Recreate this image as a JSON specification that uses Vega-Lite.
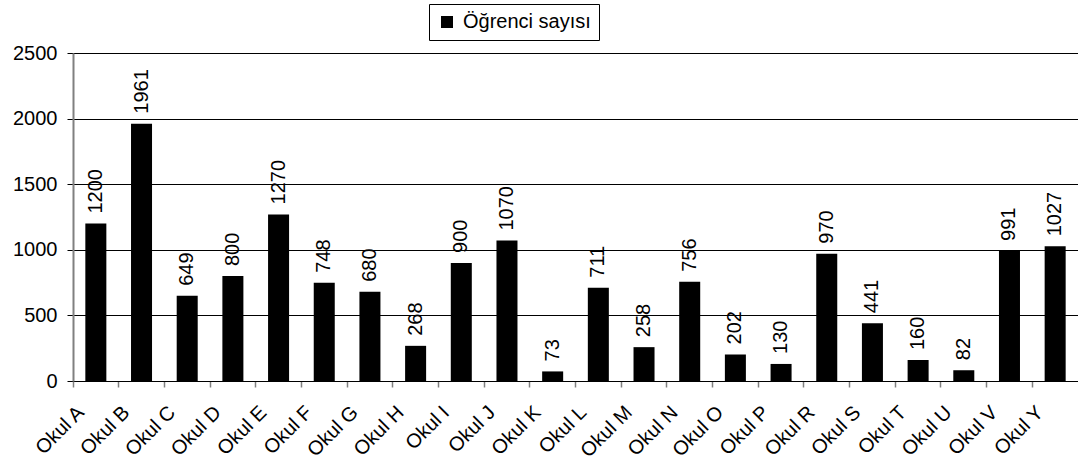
{
  "$schema": "https://vega.github.io/schema/vega-lite/v6.json",
  "autosize": "none",
  "width": 1005,
  "height": 328,
  "padding": {"left": 73, "top": 53, "right": 0, "bottom": 81},
  "background": "white",
  "config": {
    "font": "Liberation Sans",
    "view": {"stroke": null}
  },
  "data": {
    "values": [
      {"okul": "Okul A", "sayi": 1200},
      {"okul": "Okul B", "sayi": 1961},
      {"okul": "Okul C", "sayi": 649},
      {"okul": "Okul D", "sayi": 800},
      {"okul": "Okul E", "sayi": 1270},
      {"okul": "Okul F", "sayi": 748},
      {"okul": "Okul G", "sayi": 680},
      {"okul": "Okul H", "sayi": 268},
      {"okul": "Okul I", "sayi": 900},
      {"okul": "Okul J", "sayi": 1070},
      {"okul": "Okul K", "sayi": 73},
      {"okul": "Okul L", "sayi": 711},
      {"okul": "Okul M", "sayi": 258},
      {"okul": "Okul N", "sayi": 756},
      {"okul": "Okul O", "sayi": 202},
      {"okul": "Okul P", "sayi": 130},
      {"okul": "Okul R", "sayi": 970},
      {"okul": "Okul S", "sayi": 441},
      {"okul": "Okul T", "sayi": 160},
      {"okul": "Okul U", "sayi": 82},
      {"okul": "Okul V", "sayi": 991},
      {"okul": "Okul Y", "sayi": 1027}
    ]
  },
  "encoding": {
    "x": {
      "field": "okul",
      "type": "nominal",
      "sort": null,
      "scale": {"paddingInner": 0, "paddingOuter": 0},
      "axis": {
        "title": null,
        "bandPosition": 0,
        "labelAngle": -45,
        "labelAlign": "right",
        "labelBaseline": "middle",
        "labelFontSize": 20,
        "labelColor": "black",
        "labelPadding": 22,
        "labelOffset": -15,
        "labelOverlap": false,
        "labelBound": false,
        "labelLimit": 200,
        "domainColor": "black",
        "domainWidth": 1,
        "tickColor": "#808080",
        "tickWidth": 1.5,
        "tickSize": 6,
        "grid": false
      }
    },
    "y": {
      "field": "sayi",
      "type": "quantitative",
      "scale": {"domain": [0, 2500], "nice": false},
      "axis": {
        "title": null,
        "values": [0, 500, 1000, 1500, 2000, 2500],
        "format": "d",
        "labelFontSize": 20,
        "labelColor": "black",
        "labelPadding": 10,
        "domainColor": "#808080",
        "domainWidth": 2,
        "tickColor": "black",
        "tickSize": 6,
        "tickWidth": 1,
        "grid": true,
        "gridColor": "black",
        "gridWidth": 1,
        "gridOpacity": 1
      }
    }
  },
  "layer": [
    {
      "mark": {"type": "bar", "width": {"band": 0.46}},
      "encoding": {
        "color": {
          "datum": "Öğrenci sayısı",
          "type": "nominal",
          "scale": {"range": ["black"]},
          "legend": {
            "title": null,
            "orient": "none",
            "legendX": 356,
            "legendY": -49,
            "direction": "vertical",
            "strokeColor": "black",
            "fillColor": "white",
            "padding": 8,
            "labelFontSize": 20,
            "labelColor": "black",
            "symbolType": "square",
            "symbolSize": 144,
            "symbolStrokeWidth": 0,
            "labelOffset": 6
          }
        }
      }
    },
    {
      "mark": {
        "type": "text",
        "angle": 270,
        "align": "left",
        "baseline": "middle",
        "dx": 10,
        "fontSize": 20,
        "color": "black"
      },
      "encoding": {
        "text": {"field": "sayi", "type": "quantitative"}
      }
    }
  ]
}
